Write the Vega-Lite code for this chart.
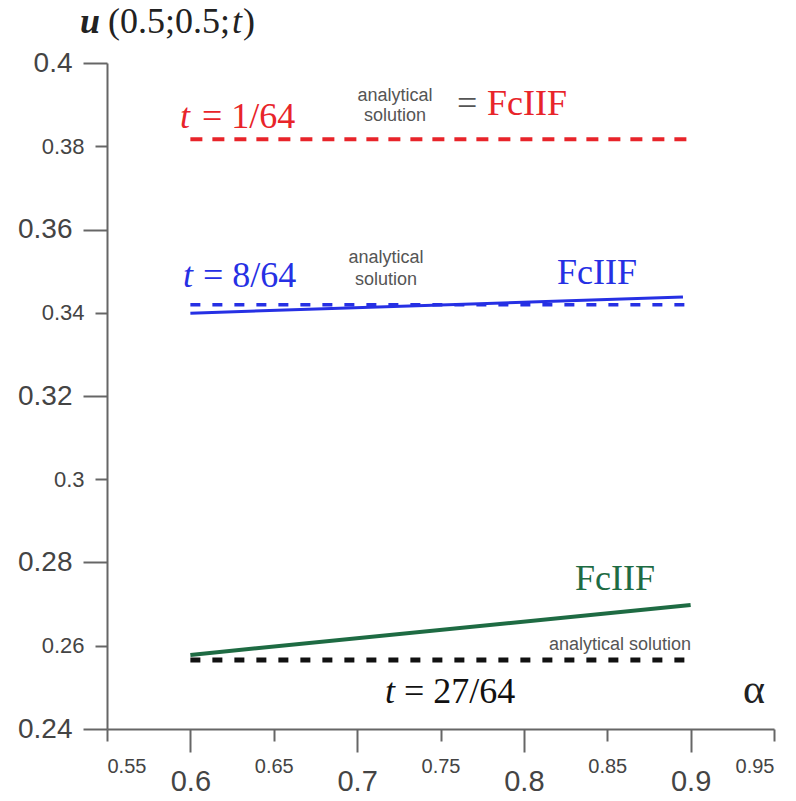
{
  "$schema": "https://vega.github.io/schema/vega-lite/v6.json",
  "width": 667,
  "height": 666,
  "autosize": "none",
  "padding": {"left": 107, "top": 63, "right": 22, "bottom": 72},
  "background": "white",
  "config": {"view": {"stroke": null}},
  "datasets": {
    "lines": [
      {"alpha": 0.6, "u": 0.3817, "curve": "1/64 analytical"},
      {"alpha": 0.9, "u": 0.3817, "curve": "1/64 analytical"},
      {"alpha": 0.6, "u": 0.3419, "curve": "8/64 analytical"},
      {"alpha": 0.9, "u": 0.3419, "curve": "8/64 analytical"},
      {"alpha": 0.6, "u": 0.3399, "curve": "8/64 FcIIF"},
      {"alpha": 0.8954, "u": 0.3438, "curve": "8/64 FcIIF"},
      {"alpha": 0.6, "u": 0.2578, "curve": "27/64 FcIIF"},
      {"alpha": 0.9, "u": 0.2698, "curve": "27/64 FcIIF"},
      {"alpha": 0.6, "u": 0.2566, "curve": "27/64 analytical"},
      {"alpha": 0.9, "u": 0.2566, "curve": "27/64 analytical"}
    ],
    "labels": [
      {"alpha": 0.5938, "u": 0.3844, "text": "t", "kind": "italic", "curve": "1/64 analytical"},
      {"alpha": 0.607, "u": 0.3844, "text": "= 1/64", "kind": "serif", "curve": "1/64 analytical"},
      {"alpha": 0.7227, "u": 0.3921, "text": "analytical", "kind": "note", "curve": "note"},
      {"alpha": 0.7227, "u": 0.3873, "text": "solution", "kind": "note", "curve": "note"},
      {"alpha": 0.7599, "u": 0.3875, "text": "=", "kind": "serif", "curve": "note"},
      {"alpha": 0.7779, "u": 0.3875, "text": "FcIIF", "kind": "serif", "curve": "1/64 FcIIF"},
      {"alpha": 0.5956, "u": 0.3462, "text": "t", "kind": "italic", "curve": "8/64 analytical"},
      {"alpha": 0.6076, "u": 0.3462, "text": "= 8/64", "kind": "serif", "curve": "8/64 analytical"},
      {"alpha": 0.7173, "u": 0.3532, "text": "analytical", "kind": "note", "curve": "note"},
      {"alpha": 0.7173, "u": 0.3479, "text": "solution", "kind": "note", "curve": "note"},
      {"alpha": 0.8199, "u": 0.3469, "text": "FcIIF", "kind": "serif", "curve": "8/64 FcIIF"},
      {"alpha": 0.8307, "u": 0.2734, "text": "FcIIF", "kind": "serif", "curve": "27/64 FcIIF"},
      {"alpha": 0.8577, "u": 0.2602, "text": "analytical solution", "kind": "note", "curve": "note"},
      {"alpha": 0.7167, "u": 0.2462, "text": "t", "kind": "italic", "curve": "27/64 analytical"},
      {"alpha": 0.7281, "u": 0.2462, "text": "= 27/64", "kind": "serif", "curve": "27/64 analytical"},
      {"alpha": 0.9314, "u": 0.2462, "text": "α", "kind": "axis", "curve": "axis"},
      {"alpha": 0.5338, "u": 0.4072, "text": "u", "kind": "titlebold", "curve": "axis"},
      {"alpha": 0.5506, "u": 0.4072, "text": "(0.5;0.5;", "kind": "title", "curve": "axis"},
      {"alpha": 0.625, "u": 0.4072, "text": "t", "kind": "titleitalic", "curve": "axis"},
      {"alpha": 0.6316, "u": 0.4072, "text": ")", "kind": "title", "curve": "axis"}
    ]
  },
  "encoding": {
    "x": {
      "field": "alpha", "type": "quantitative",
      "scale": {"domain": [0.55, 0.95], "nice": false, "zero": false},
      "axis": {
        "title": null, "grid": false,
        "values": [0.55, 0.6, 0.65, 0.7, 0.75, 0.8, 0.85, 0.9, 0.95],
        "format": "~g",
        "domainColor": "#666666", "domainWidth": 2,
        "tickColor": "#666666", "tickWidth": 2,
        "tickSize": {"condition": {"test": "round(datum.value*100) % 10 === 0", "value": 23}, "value": 12},
        "labelFont": "Liberation Sans",
        "labelColor": "#444444",
        "labelFontSize": {"condition": {"test": "round(datum.value*100) % 10 === 0", "value": 29}, "value": 20},
        "labelPadding": 15,
        "labelBaseline": "top"
      }
    },
    "y": {
      "field": "u", "type": "quantitative",
      "scale": {"domain": [0.24, 0.4], "nice": false, "zero": false},
      "axis": {
        "title": null, "grid": false,
        "values": [0.24, 0.26, 0.28, 0.3, 0.32, 0.34, 0.36, 0.38, 0.4],
        "format": "~g",
        "domainColor": "#666666", "domainWidth": 2,
        "tickColor": "#666666", "tickWidth": 2,
        "tickSize": {"condition": {"test": "round(datum.value*100) % 4 === 0", "value": 24}, "value": 12},
        "labelFont": "Liberation Sans",
        "labelColor": "#444444",
        "labelFontSize": {"condition": {"test": "round(datum.value*100) % 4 === 0", "value": 28}, "value": 22},
        "labelPadding": 11
      }
    },
    "color": {
      "field": "curve", "type": "nominal", "legend": null,
      "scale": {
        "domain": ["1/64 analytical", "1/64 FcIIF", "8/64 analytical", "8/64 FcIIF", "27/64 analytical", "27/64 FcIIF", "note", "axis"],
        "range": ["#e8242a", "#e8242a", "#2630e4", "#2630e4", "#111111", "#1e6b43", "#555555", "#222222"]
      }
    }
  },
  "layer": [
    {
      "data": {"name": "lines"},
      "transform": [{"filter": "datum.curve === '1/64 analytical'"}],
      "mark": {"type": "line", "strokeWidth": 4, "strokeDash": [12, 10]}
    },
    {
      "data": {"name": "lines"},
      "transform": [{"filter": "datum.curve === '8/64 analytical'"}],
      "mark": {"type": "line", "strokeWidth": 3.5, "strokeDash": [10, 12]}
    },
    {
      "data": {"name": "lines"},
      "transform": [{"filter": "datum.curve === '8/64 FcIIF'"}],
      "mark": {"type": "line", "strokeWidth": 3}
    },
    {
      "data": {"name": "lines"},
      "transform": [{"filter": "datum.curve === '27/64 FcIIF'"}],
      "mark": {"type": "line", "strokeWidth": 4}
    },
    {
      "data": {"name": "lines"},
      "transform": [{"filter": "datum.curve === '27/64 analytical'"}],
      "mark": {"type": "line", "strokeWidth": 5, "strokeDash": [10, 12]}
    },
    {
      "data": {"name": "labels"},
      "transform": [{"filter": "datum.kind === 'italic'"}],
      "mark": {"type": "text", "font": "Liberation Serif", "fontStyle": "italic", "fontSize": 36, "align": "left", "baseline": "alphabetic"},
      "encoding": {"text": {"field": "text"}}
    },
    {
      "data": {"name": "labels"},
      "transform": [{"filter": "datum.kind === 'serif'"}],
      "mark": {"type": "text", "font": "Liberation Serif", "fontSize": 36, "align": "left", "baseline": "alphabetic"},
      "encoding": {"text": {"field": "text"}}
    },
    {
      "data": {"name": "labels"},
      "transform": [{"filter": "datum.kind === 'note'"}],
      "mark": {"type": "text", "font": "Liberation Sans", "fontSize": 18, "align": "center", "baseline": "middle"},
      "encoding": {"text": {"field": "text"}}
    },
    {
      "data": {"name": "labels"},
      "transform": [{"filter": "datum.kind === 'axis'"}],
      "mark": {"type": "text", "font": "Liberation Serif", "fontSize": 42, "align": "left", "baseline": "alphabetic"},
      "encoding": {"text": {"field": "text"}}
    },
    {
      "data": {"name": "labels"},
      "transform": [{"filter": "datum.kind === 'titlebold'"}],
      "mark": {"type": "text", "font": "Liberation Serif", "fontStyle": "italic", "fontWeight": "bold", "fontSize": 36, "align": "left", "baseline": "alphabetic"},
      "encoding": {"text": {"field": "text"}}
    },
    {
      "data": {"name": "labels"},
      "transform": [{"filter": "datum.kind === 'title'"}],
      "mark": {"type": "text", "font": "Liberation Serif", "fontSize": 36, "align": "left", "baseline": "alphabetic"},
      "encoding": {"text": {"field": "text"}}
    },
    {
      "data": {"name": "labels"},
      "transform": [{"filter": "datum.kind === 'titleitalic'"}],
      "mark": {"type": "text", "font": "Liberation Serif", "fontStyle": "italic", "fontSize": 36, "align": "left", "baseline": "alphabetic"},
      "encoding": {"text": {"field": "text"}}
    }
  ]
}
